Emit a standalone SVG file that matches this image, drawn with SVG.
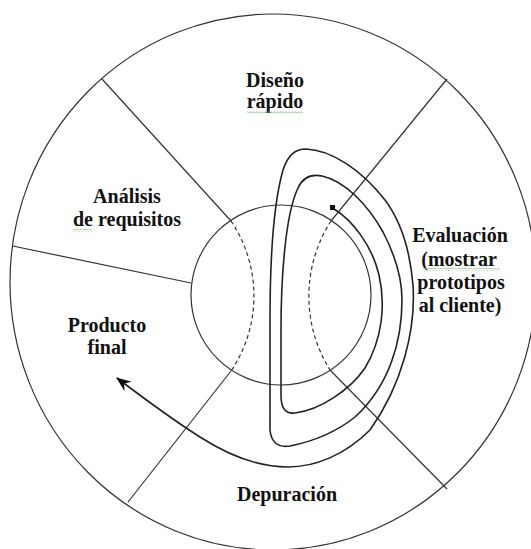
<svg xmlns="http://www.w3.org/2000/svg" width="531" height="549" viewBox="0 0 531 549">
<style>
.lbl{font-family:"Liberation Serif","Times New Roman",serif;font-weight:bold;font-size:20px;fill:#111;text-anchor:middle}
.ln{fill:none;stroke:#333;stroke-width:1.2}
.dash{fill:none;stroke:#333;stroke-width:1.2;stroke-dasharray:4 3}
.sp{fill:none;stroke:#222;stroke-width:1.6}
</style>
<defs>
<marker id="arr" markerUnits="userSpaceOnUse" markerWidth="20" markerHeight="16" refX="0" refY="0" viewBox="-16 -8 20 16" orient="auto">
<path d="M1 0 L-14 -6 L-9 0 L-14 6 Z" fill="#111"/>
</marker>
<pattern id="sq" width="3" height="3" patternUnits="userSpaceOnUse">
<path d="M0 2.4 L1.5 0.6 L3 2.4" fill="none" stroke="#7db87d" stroke-width="0.8"/>
</pattern>
</defs>
<rect width="531" height="549" fill="#fff"/>
<g id="outer-circle"><ellipse class="ln" cx="273" cy="282" rx="263" ry="268"/></g>
<g id="inner-circle"><circle class="ln" cx="281" cy="295" r="90"/></g>
<g id="connectors">
<line class="ln" x1="102" y1="79" x2="231" y2="221"/>
<line class="ln" x1="12.7" y1="246" x2="191" y2="283"/>
<line class="ln" x1="447" y1="79" x2="331" y2="221"/>
<line class="ln" x1="128" y1="502" x2="231" y2="371"/>
<line class="ln" x1="330" y1="370" x2="447" y2="489"/>
<path class="dash" d="M231 221 A134 134 0 0 1 231 371"/>
<path class="dash" d="M331 221 A139 139 0 0 0 330 370"/>
<path class="sp" marker-end="url(#arr)" d="M334 209 C352 220 372 245 379 275 C386 305 382 340 365 368 C350 390 320 410 295 413 C285 414 281 408 281 395 L281 330 C281 280 285 215 298 188 C303 177 312 174 322 176 C345 181 368 205 383 232 C395 255 402 280 402 300 C402 340 390 385 355 417 C335 433 310 442 290 446 C278 448 271 442 270 430 L270 320 C270 260 273 205 283 170 C288 155 295 149 306 149 C330 150 360 168 385 200 C400 220 410 250 413 285 C416 330 402 385 370 430 C345 455 315 467 288 467 C258 467 228 455 200 437 C170 418 142 397 117 378"/>
<rect x="330" y="205" width="5" height="5" fill="#111"/>
</g>
<g id="diseno">
<text class="lbl" x="275" y="87">Diseño</text>
<text class="lbl" x="275" y="108">rápido</text>
<rect x="247" y="111" width="56" height="3" fill="url(#sq)"/>
</g>
<g id="analisis">
<text class="lbl" x="127" y="203">Análisis</text>
<text class="lbl" x="127" y="226">de requisitos</text>
<rect x="73" y="229" width="19" height="3" fill="url(#sq)"/>
</g>
<g id="evaluacion">
<text class="lbl" x="460" y="242">Evaluación</text>
<text class="lbl" x="459" y="266">(mostrar</text>
<text class="lbl" x="461" y="289">prototipos</text>
<text class="lbl" x="460" y="312">al cliente)</text>
<rect x="423" y="268" width="77" height="3" fill="url(#sq)"/>
</g>
<g id="producto">
<text class="lbl" x="107" y="332">Producto</text>
<text class="lbl" x="107" y="354">final</text>
</g>
<g id="depuracion">
<text class="lbl" x="287" y="501">Depuración</text>
</g>
</svg>
